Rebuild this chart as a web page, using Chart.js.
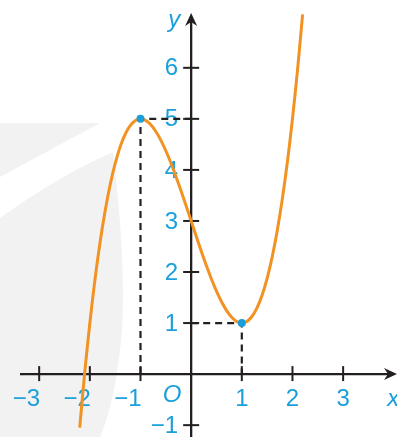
<!DOCTYPE html>
<html>
<head>
<meta charset="utf-8">
<script src="https://cdn.jsdelivr.net/npm/chart.js@4.4.1/dist/chart.umd.min.js"></script>
<style>
  html, body { margin: 0; padding: 0; background: #fff; overflow: hidden; }
  canvas { display: block; }
</style>
</head>
<body>
<canvas id="graph" width="397" height="437"></canvas>
<script>
"use strict";

// y = x^3 - 3x + 3, sampled along the drawn curve
const curveX = [-2.2, -2.1, -2.0, -1.9, -1.8, -1.7, -1.6, -1.5, -1.4, -1.3, -1.2, -1.1, -1.0,
  -0.9, -0.8, -0.7, -0.6, -0.5, -0.4, -0.3, -0.2, -0.1, 0, 0.1, 0.2, 0.3, 0.4, 0.5, 0.6,
  0.7, 0.8, 0.9, 1.0, 1.1, 1.2, 1.3, 1.4, 1.5, 1.6, 1.7, 1.8, 1.9, 2.0, 2.1, 2.2];
const curveY = [-1.048, 0.039, 1, 1.841, 2.568, 3.187, 3.704, 4.125, 4.456, 4.703, 4.872, 4.969, 5,
  4.971, 4.888, 4.757, 4.584, 4.375, 4.136, 3.873, 3.592, 3.299, 3, 2.701, 2.408, 2.127, 1.864,
  1.625, 1.416, 1.243, 1.112, 1.029, 1, 1.031, 1.128, 1.297, 1.544, 1.875, 2.296, 2.813, 3.432,
  4.159, 5, 5.961, 7.048];

// extrema: maximum and minimum
const extremaX = [-1, 1];
const extremaY = [5, 1];

const xTicks = [-3, -2, -1, 1, 2, 3];
const yTicks = [-1, 1, 2, 3, 4, 5, 6];

const blue = "#1a9fda";
const ink = "#231f20";
const orange = "#f29222";

const pts = (xs, ys) => xs.map((x, i) => ({ x: x, y: ys[i] }));
const fmt = (v) => (v < 0 ? "\u2212" + Math.abs(v) : String(v));

// light grey shape in the background
const backdrop = {
  id: "backdrop",
  beforeDraw(chart) {
    const c = chart.ctx;
    c.save();
    c.fillStyle = "#fff";
    c.fillRect(0, 0, chart.width, chart.height);
    c.fillStyle = "#f2f2f2";
    c.beginPath();
    c.moveTo(0, 123);
    c.lineTo(100, 123);
    c.lineTo(0, 177);
    c.closePath();
    c.fill();
    c.beginPath();
    c.moveTo(0, 218);
    c.quadraticCurveTo(60, 175, 113, 152);
    c.quadraticCurveTo(126, 260, 122, 330);
    c.quadraticCurveTo(116, 400, 100, 437);
    c.lineTo(0, 437);
    c.closePath();
    c.fill();
    c.restore();
  },
};

// axes with arrows, ticks and labels placed by the scales
const axes = {
  id: "axes",
  beforeDatasetsDraw(chart) {
    const c = chart.ctx;
    const xs = chart.scales.x;
    const ys = chart.scales.y;
    const ox = xs.getPixelForValue(0);
    const oy = ys.getPixelForValue(0);
    c.save();
    c.strokeStyle = ink;
    c.fillStyle = ink;
    c.lineWidth = 2.3;

    // x axis
    c.beginPath();
    c.moveTo(20, oy);
    c.lineTo(chart.width - 6, oy);
    c.stroke();
    // y axis
    c.beginPath();
    c.moveTo(ox, chart.height);
    c.lineTo(ox, 20);
    c.stroke();

    // arrowheads
    const tipX = chart.width;
    c.beginPath();
    c.moveTo(tipX, oy);
    c.lineTo(tipX - 13, oy - 6);
    c.lineTo(tipX - 9, oy);
    c.lineTo(tipX - 13, oy + 6);
    c.closePath();
    c.fill();
    const tipY = 13;
    c.beginPath();
    c.moveTo(ox, tipY);
    c.lineTo(ox - 6, tipY + 13);
    c.lineTo(ox, tipY + 9);
    c.lineTo(ox + 6, tipY + 13);
    c.closePath();
    c.fill();

    // tick marks
    c.lineWidth = 2;
    xTicks.forEach((v) => {
      const px = xs.getPixelForValue(v);
      c.beginPath();
      c.moveTo(px, oy - 8);
      c.lineTo(px, oy + 7);
      c.stroke();
    });
    yTicks.forEach((v) => {
      const py = ys.getPixelForValue(v);
      c.beginPath();
      c.moveTo(ox - 8, py);
      c.lineTo(ox + 8, py);
      c.stroke();
    });

    // labels
    c.fillStyle = blue;
    c.font = "24px 'Liberation Sans', Arial, sans-serif";
    c.textBaseline = "middle";
    xTicks.forEach((v) => {
      const px = xs.getPixelForValue(v);
      if (v < 0) {
        c.textAlign = "right";
        c.fillText(fmt(v), px + 1, oy + 25);
      } else {
        c.textAlign = "center";
        c.fillText(fmt(v), px, oy + 25);
      }
    });
    c.textAlign = "right";
    yTicks.forEach((v) => {
      c.fillText(fmt(v), ox - 13, ys.getPixelForValue(v) + 1);
    });

    c.font = "italic 24px 'Liberation Sans', Arial, sans-serif";
    c.textAlign = "center";
    c.fillText("O", ox - 19, oy + 21);
    c.fillText("y", ox - 17, 20);
    c.textAlign = "left";
    c.fillText("x", ox + 196, oy + 25);
    c.restore();
  },
};

const ctx = document.getElementById("graph").getContext("2d");

// datasets listed first are painted on top
new Chart(ctx, {
  type: "scatter",
  data: {
    datasets: [
      {
        label: "extrema",
        data: pts(extremaX, extremaY),
        showLine: false,
        backgroundColor: blue,
        borderColor: blue,
        pointBorderWidth: 0,
        pointRadius: 4,
      },
      {
        label: "f(x)",
        data: pts(curveX, curveY),
        showLine: true,
        borderColor: orange,
        borderWidth: 3,
        pointRadius: 0,
        tension: 0.3,
      },
      {
        label: "guides max",
        data: pts([extremaX[0], extremaX[0], 0], [0, extremaY[0], extremaY[0]]),
        showLine: true,
        borderColor: ink,
        borderWidth: 2.2,
        borderDash: [7, 5],
        pointRadius: 0,
        tension: 0,
      },
      {
        label: "guides min",
        data: pts([0, extremaX[1], extremaX[1]], [extremaY[1], extremaY[1], 0]),
        showLine: true,
        borderColor: ink,
        borderWidth: 2.2,
        borderDash: [7, 5],
        pointRadius: 0,
        tension: 0,
      },
    ],
  },
  options: {
    responsive: false,
    animation: false,
    layout: { padding: 0 },
    plugins: { legend: { display: false }, tooltip: { enabled: false } },
    scales: {
      x: { type: "linear", min: -3.6944, max: 3.9845, display: false },
      y: { type: "linear", min: -1.1538, max: 7.25, display: false },
    },
  },
  plugins: [backdrop, axes],
});
</script>
</body>
</html>
